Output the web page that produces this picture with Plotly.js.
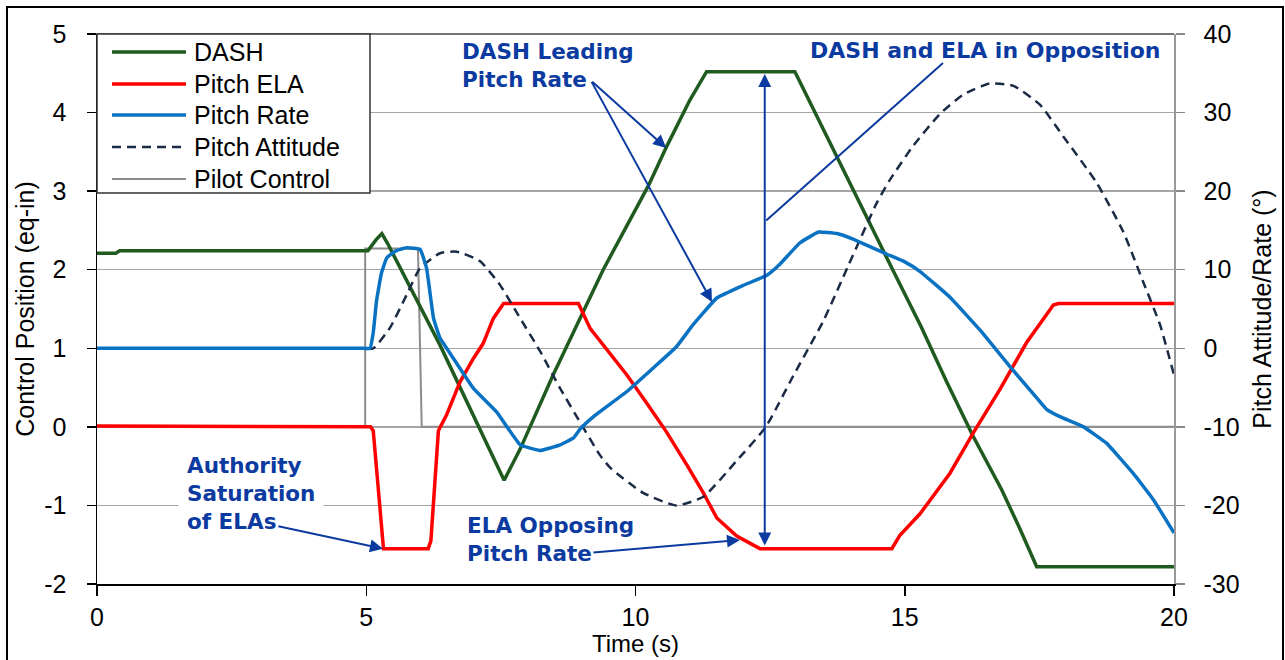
<!DOCTYPE html>
<html>
<head>
<meta charset="utf-8">
<script src="https://cdn.plot.ly/plotly-3.0.1.min.js"></script>
<style>
  html, body { margin: 0; padding: 0; background: #ffffff; }
  #chart { width: 1285px; height: 660px; }
</style>
</head>
<body>
<div id="chart"></div>
<script>
// ---- Series (time in s; left axis in eq-in, right axis in degrees) ----
const dashTime = [0, 0.35, 0.42, 5.03, 5.18, 5.29, 5.40, 6.37, 7.56, 7.86, 8.47, 9.40, 10.24, 10.58, 11.01, 11.32, 12.96, 13.74, 14.35, 14.79, 15.30, 15.78, 16.27, 16.80, 17.14, 17.45, 20];
const dashPos  = [2.21, 2.21, 2.24, 2.24, 2.38, 2.46, 2.33, 1.04, -0.68, -0.28, 0.66, 2.00, 3.07, 3.57, 4.16, 4.52, 4.52, 3.43, 2.57, 1.98, 1.28, 0.57, -0.12, -0.80, -1.30, -1.78, -1.78];

const elaTime = [0, 0.9, 0.95, 5.08, 5.13, 5.22, 5.32, 6.15, 6.20, 6.34, 6.49, 6.74, 6.99, 7.17, 7.36, 7.55, 8.94, 9.16, 9.47, 9.84, 10.21, 10.58, 10.95, 11.26, 11.51, 11.88, 12.31, 14.76, 14.91, 15.28, 15.84, 16.27, 16.77, 17.26, 17.76, 17.85, 20];
const elaPos  = [0.01, 0.01, 0, 0, -0.05, -0.8, -1.55, -1.55, -1.45, -0.05, 0.15, 0.57, 0.87, 1.06, 1.38, 1.57, 1.57, 1.25, 0.98, 0.66, 0.30, -0.07, -0.48, -0.84, -1.16, -1.39, -1.55, -1.55, -1.38, -1.11, -0.59, -0.08, 0.48, 1.07, 1.55, 1.57, 1.57];

const rateTime = [0, 1.0, 2.0, 3.0, 4.0, 4.9, 5.07, 5.13, 5.19, 5.28, 5.38, 5.55, 5.75, 6.00, 6.12, 6.25, 6.37, 6.62, 6.99, 7.42, 7.86, 8.23, 8.60, 8.85, 8.97, 9.22, 9.84, 10.33, 10.76, 11.07, 11.51, 12.00, 12.44, 12.68, 13.05, 13.40, 13.74, 14.04, 14.66, 15.00, 15.28, 15.84, 16.40, 16.95, 17.51, 17.64, 17.88, 18.32, 18.75, 19.24, 19.62, 20.00];
const rateDeg  = [0, 0, 0, 0, 0, 0, 0, 2.0, 6.0, 9.5, 11.5, 12.4, 12.8, 12.6, 10.2, 3.8, 1.3, -1.3, -5.1, -8.1, -12.3, -13.0, -12.3, -11.4, -10.3, -8.7, -5.5, -2.5, 0.2, 3.0, 6.4, 8.0, 9.3, 10.7, 13.4, 14.8, 14.6, 13.9, 12.0, 11.0, 9.8, 6.5, 2.3, -2.3, -6.8, -7.8, -8.7, -10.0, -12.1, -15.9, -19.3, -23.5];

const attTime = [0, 1.0, 2.0, 3.0, 4.0, 4.9, 5.13, 5.44, 5.75, 6.00, 6.37, 6.68, 7.11, 7.48, 7.86, 8.23, 8.60, 8.97, 9.34, 9.53, 10.14, 10.76, 11.26, 11.88, 12.42, 12.93, 13.49, 13.95, 14.48, 14.73, 15.16, 15.65, 16.09, 16.58, 17.02, 17.51, 17.94, 18.56, 19.06, 19.43, 19.74, 20.00];
const attDeg  = [0, 0, 0, 0, 0, 0, 0, 2.6, 6.8, 10.2, 12.1, 12.3, 11.1, 8.1, 3.8, -0.4, -5.1, -9.4, -13.6, -15.2, -18.4, -20.0, -18.9, -14.3, -10.0, -3.5, 3.5, 10.5, 18.5, 21.5, 25.8, 29.8, 32.3, 33.7, 33.4, 31.0, 27.0, 21.1, 14.8, 8.4, 3.0, -3.4];

const pilotTime = [0, 4.98, 4.98, 5.96, 6.03, 20];
const pilotPos  = [0, 0, 2.27, 2.27, 0, 0];

// ---- Axis ticks ----
const timeTicks = [0, 5, 10, 15, 20];
const leftTicks = [-2, -1, 0, 1, 2, 3, 4, 5];
const leftTickText = ['-2', '-1', '0', '1', '2', '3', '4', '5'];
const rightTicks = [-30, -20, -10, 0, 10, 20, 30, 40];
const rightTickText = ['-30', '-20', '-10', '0', '10', '20', '30', '40'];

// ---- Series names and colours ----
const names = ['DASH', 'Pitch ELA', 'Pitch Rate', 'Pitch Attitude', 'Pilot Control'];
const colors = { dash: '#1f5a1f', ela: '#ff0000', rate: '#0a72c2', att: '#1b2a45', pilot: '#8c8c8c' };

const REG = 'Liberation Sans, Arial, sans-serif';
const BOLD = 'DejaVu Sans, Arial, sans-serif';
const NOTE = '#0b3aa0';

// Plot box in figure pixels, used to place the frame and the key
const box = { left: 97, right: 1174, top: 34, bottom: 584 };
const px = v => (v - box.left) / (box.right - box.left);
const py = v => (box.bottom - v) / (box.bottom - box.top);

const traces = [
  { x: pilotTime, y: pilotPos, name: names[4], mode: 'lines', line: { color: colors.pilot, width: 2 }, showlegend: false },
  { x: dashTime, y: dashPos, name: names[0], mode: 'lines', line: { color: colors.dash, width: 3.5 }, showlegend: false },
  { x: elaTime, y: elaPos, name: names[1], mode: 'lines', line: { color: colors.ela, width: 3.5 }, showlegend: false },
  { x: attTime, y: attDeg, name: names[3], yaxis: 'y2', mode: 'lines', line: { color: colors.att, width: 2.5, dash: '9px,6px', shape: 'spline', smoothing: 0.5 }, showlegend: false },
  { x: rateTime, y: rateDeg, name: names[2], yaxis: 'y2', mode: 'lines', line: { color: colors.rate, width: 3.5, shape: 'spline', smoothing: 0.3 }, showlegend: false }
];

// Key drawn as a boxed list with long line samples
const keyRows = [52, 84, 115, 147, 179];
const keyStyles = [
  { color: colors.dash, width: 3.5, dash: 'solid' },
  { color: colors.ela, width: 3.5, dash: 'solid' },
  { color: colors.rate, width: 3.5, dash: 'solid' },
  { color: colors.att, width: 2.5, dash: '9px,6px' },
  { color: colors.pilot, width: 2, dash: 'solid' }
];

const shapes = [
  // outer frame
  { type: 'rect', xref: 'paper', yref: 'paper', x0: px(7), x1: px(1283), y0: py(720), y1: py(7),
    line: { color: '#000', width: 2 }, fillcolor: 'rgba(0,0,0,0)', layer: 'above' },
  // top edge of the plot box
  { type: 'line', xref: 'paper', yref: 'paper', x0: 0, x1: 1, y0: 1, y1: 1, line: { color: '#444', width: 1.5 }, layer: 'above' },
  // key box
  { type: 'rect', xref: 'paper', yref: 'paper', x0: px(97), x1: px(370), y0: py(193), y1: py(34),
    line: { color: '#333', width: 1.5 }, fillcolor: '#ffffff', layer: 'above' }
];
keyRows.forEach((r, i) => {
  shapes.push({ type: 'line', xref: 'paper', yref: 'paper', x0: px(112), x1: px(186), y0: py(r), y1: py(r),
    line: keyStyles[i], layer: 'above' });
});

const annotations = [];
keyRows.forEach((r, i) => {
  annotations.push({ xref: 'paper', yref: 'paper', x: px(192), y: py(r), xanchor: 'left', yanchor: 'middle',
    text: names[i], showarrow: false, font: { family: REG, size: 25, color: '#000' } });
});

// Callout texts
annotations.push(
  { x: 1.50, y: -0.22, xref: 'x', yref: 'y', xanchor: 'left', yanchor: 'top', align: 'left',
    text: '<b>Authority<br>Saturation<br>of ELAs</b>', showarrow: false, bgcolor: '#ffffff', borderpad: 8,
    font: { family: BOLD, size: 21.5, color: NOTE } },
  { x: 6.74, y: 4.96, xref: 'x', yref: 'y', xanchor: 'left', yanchor: 'top', align: 'left',
    text: '<b>DASH Leading<br>Pitch Rate</b>', showarrow: false,
    font: { family: BOLD, size: 21.5, color: NOTE } },
  { x: 13.20, y: 4.79, xref: 'x', yref: 'y', xanchor: 'left', yanchor: 'middle', align: 'left',
    text: '<b>DASH and ELA in Opposition</b>', showarrow: false,
    font: { family: BOLD, size: 22, color: NOTE } },
  { x: 6.83, y: -1.07, xref: 'x', yref: 'y', xanchor: 'left', yanchor: 'top', align: 'left',
    text: '<b>ELA Opposing<br>Pitch Rate</b>', showarrow: false,
    font: { family: BOLD, size: 21.5, color: NOTE } }
);

// Callout arrows: [headX, headY, tailX, tailY, head style]
const arrows = [
  [5.31, -1.55, 3.34, -1.26, 2],
  [10.57, 3.55, 9.17, 4.41, 2],
  [11.42, 1.59, 9.17, 4.41, 2],
  [11.94, -1.44, 9.19, -1.60, 2],
  [15.71, 4.63, 12.40, 2.61, 0]
];
arrows.forEach(a => {
  annotations.push({ x: a[0], y: a[1], ax: a[2], ay: a[3], xref: 'x', yref: 'y', axref: 'x', ayref: 'y',
    text: '', showarrow: true, arrowhead: a[4], arrowsize: 1.3, arrowwidth: 2, arrowcolor: NOTE, standoff: 0 });
});
// span between DASH maximum and ELA minimum
annotations.push({ x: 12.40, y: 4.49, ax: 12.40, ay: -1.53, xref: 'x', yref: 'y', axref: 'x', ayref: 'y',
  text: '', showarrow: true, arrowhead: 2, startarrowhead: 2, arrowside: 'end+start', arrowsize: 1.3, startarrowsize: 1.3,
  arrowwidth: 2, arrowcolor: NOTE, standoff: 0, startstandoff: 0 });

const layout = {
  width: 1285, height: 660,
  margin: { l: box.left, r: 1285 - box.right, t: box.top, b: 660 - box.bottom, pad: 0 },
  paper_bgcolor: '#ffffff', plot_bgcolor: '#ffffff',
  showlegend: false,
  font: { family: REG, size: 25, color: '#000' },
  xaxis: {
    range: [0, 20], tickmode: 'array', tickvals: timeTicks,
    ticks: 'outside', ticklen: 10, tickwidth: 1.5, tickcolor: '#000',
    showline: true, linecolor: '#000', linewidth: 1.5,
    showgrid: false, zeroline: false, automargin: false,
    tickfont: { family: REG, size: 25, color: '#000' }, ticklabelstandoff: 0,
    title: { text: 'Time (s)', font: { family: REG, size: 24, color: '#000' }, standoff: 0 }
  },
  yaxis: {
    range: [-2, 5], tickmode: 'array', tickvals: leftTicks, ticktext: leftTickText,
    ticks: 'outside', ticklen: 9, tickwidth: 1.5, tickcolor: '#000',
    showline: true, linecolor: '#000', linewidth: 1.5,
    showgrid: true, gridcolor: '#a6a6a6', gridwidth: 1.5, zeroline: false, automargin: false,
    tickfont: { family: REG, size: 25, color: '#000' }, ticklabelstandoff: 15,
    title: { text: 'Control Position (eq-in)', font: { family: REG, size: 25, color: '#000' }, standoff: 2 }
  },
  yaxis2: {
    range: [-30, 40], overlaying: 'y', side: 'right', tickmode: 'array', tickvals: rightTicks, ticktext: rightTickText,
    ticks: 'outside', ticklen: 9, tickwidth: 1.5, tickcolor: '#888',
    showline: true, linecolor: '#999', linewidth: 1.5,
    showgrid: false, zeroline: false, automargin: false,
    tickfont: { family: REG, size: 25, color: '#000' }, ticklabelstandoff: 14,
    title: { text: 'Pitch Attitude/Rate (°)', font: { family: REG, size: 25, color: '#000' }, standoff: 15 }
  },
  shapes: shapes,
  annotations: annotations
};

Plotly.newPlot('chart', traces, layout, { staticPlot: true, displayModeBar: false });
</script>
</body>
</html>
